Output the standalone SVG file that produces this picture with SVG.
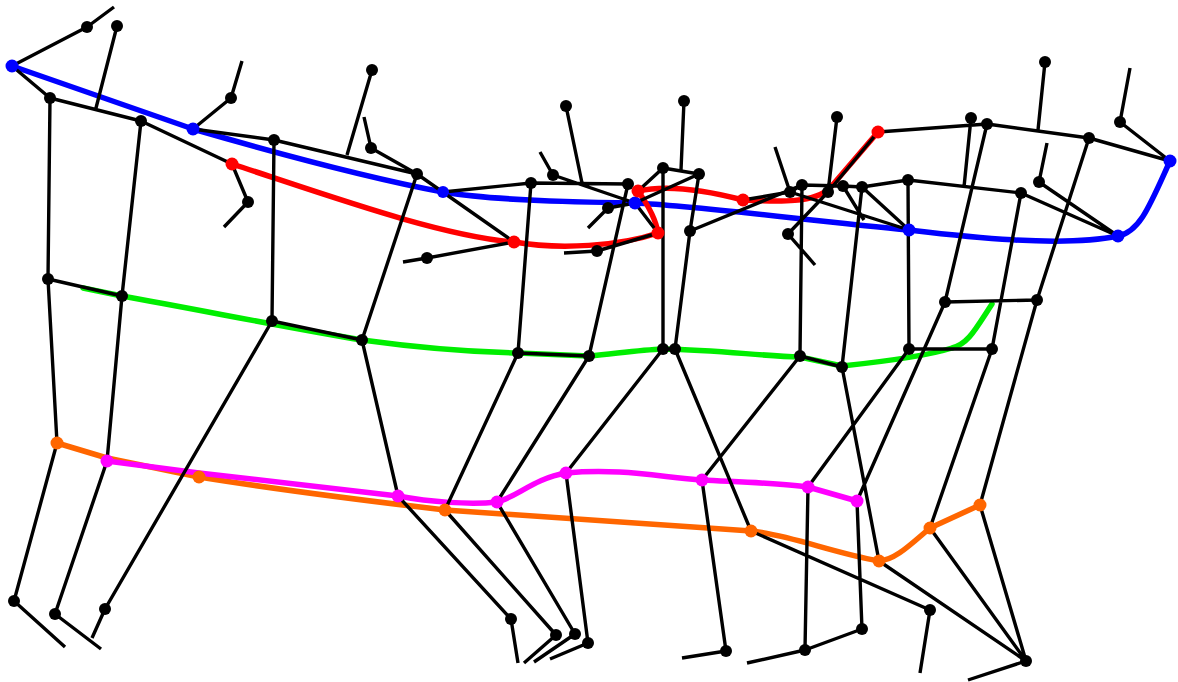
<svg xmlns="http://www.w3.org/2000/svg" width="1178" height="682" viewBox="0 0 1178 682">
<style>
.e{stroke:#000;stroke-width:3.4;fill:none;stroke-linecap:butt}
.r{fill:none;stroke-width:5.5;stroke-linecap:round;stroke-linejoin:round}
.n{fill:#000}
.bl{stroke:#0000ff}.rd{stroke:#ff0000}.gr{stroke:#00ee00}.or{stroke:#ff6600}.mg{stroke:#ff00ff}
.cb{fill:#0000ff}.cr{fill:#ff0000}.co{fill:#ff6600}.cm{fill:#ff00ff}
</style>
<rect width="1178" height="682" fill="#fff"/>
<g id="routes">
<path class="r bl" d="M12,66 L193,129 C300,160 390,182 443,192 C490,200 560,202 635,203 C700,206 820,222 909,230 C960,236 1060,248 1118,236 C1140,232 1150,205 1170,161"/>
<path class="r rd" d="M232,164 C330,196 440,236 514,242 C560,250 620,246 658,233 C656,220 648,205 638,191 C660,186 690,186 743,200 C780,202 815,203 830,188 L878,132"/>
<path class="r gr" d="M83,288 L122,296 C200,310 300,330 362,340 C420,348 470,352 518,353 L589,356 C620,353 640,350 663,349 C720,350 760,356 800,357 L842,366 C880,362 930,355 952,348 C968,344 975,330 992,304"/>
<path class="r or" d="M57,443 L107,458 L199,477 C280,490 360,500 445,510 C550,517 650,524 751,531 C790,535 830,552 879,561 C895,560 910,545 930,528 L980,505"/>
<path class="r mg" d="M107,461 L199,473 L398,496 C430,502 470,505 497,502 C515,498 535,478 566,473 C620,468 660,477 702,480 C740,482 780,483 808,487 L857,501"/>
</g>
<g id="connectors">
<path class="e" d="M114,7L87,27 M87,27L12,66 M117,26L96,108 M12,66L50,98 M50,98L141,121 M50,98L48,279 M141,121L232,164 M141,121L122,296 M48,279L122,296 M48,279L57,443 M57,443L14,601 M14,601L65,647 M122,296L107,461 M107,461L55,614 M55,614L101,649 M105,609L92,638 M272,321L105,609"/>
<path class="e" d="M193,129L231,98 M231,98L242,61 M193,129L274,140 M274,140L272,321 M274,140L417,174 M372,70L347,155 M371,148L364,117 M371,148L417,174 M417,174L362,340 M417,174L514,242 M232,164L248,202 M248,202L224,227 M272,321L362,340 M362,340L398,496 M398,496L511,619 M511,619L518,663 M403,262L427,258 M427,258L514,242"/>
<path class="e" d="M443,192L531,183 M531,183L628,184 M531,183L518,353 M518,353L589,356 M518,353L445,510 M445,510L556,635 M556,635L524,663 M589,356L497,502 M497,502L575,634 M575,634L534,662 M628,184L589,356 M553,175L540,152 M553,175L635,203 M566,106L582,183 M597,251L564,253 M597,251L658,233 M608,208L588,228 M608,208L635,203 M635,203L699,174 M635,203L658,233"/>
<path class="e" d="M663,168L638,191 M663,168L699,174 M663,168L663,349 M684,101L681,170 M699,174L690,231 M690,231L675,349 M690,231L802,185 M663,349L675,349 M663,349L566,473 M566,473L588,643 M588,643L550,659 M675,349L751,531 M702,480L726,651 M726,651L682,658 M800,356L702,480"/>
<path class="e" d="M743,200L790,192 M775,147L790,192 M790,192L802,185 M802,185L843,186 M843,186L862,187 M862,187L908,180 M790,192L909,230 M802,185L800,356 M837,117L828,192 M828,192L878,132 M828,192L788,234 M788,234L815,265 M843,186L864,220 M862,187L909,230 M862,187L842,367 M908,180L909,349"/>
<path class="e" d="M878,132L987,124 M971,118L964,187 M987,124L1089,138 M1045,62L1038,130 M987,124L945,302 M1089,138L1170,161 M1089,138L1037,300 M1120,122L1130,68 M1120,122L1170,161 M908,180L1021,193 M1021,193L1118,236 M1039,182L1047,143 M1039,182L1118,236 M1021,193L992,349 M945,302L1037,300 M909,349L992,349"/>
<path class="e" d="M945,302L857,501 M909,349L808,487 M800,356L842,367 M842,367L879,561 M992,349L930,528 M1037,300L980,505 M808,487L805,650 M805,650L747,663 M805,650L862,629 M862,629L857,501 M751,531L930,610 M930,610L920,673 M879,561L1026,661 M930,528L1026,661 M980,505L1026,661 M1026,661L968,680"/>
</g>
<g id="nodes">
<g id="n1"><circle class="n" cx="87" cy="27" r="6"/></g>
<g id="n2"><circle class="n" cx="117" cy="26" r="6"/></g>
<g id="n3"><circle class="n" cx="50" cy="98" r="6"/></g>
<g id="n4"><circle class="n" cx="141" cy="121" r="6"/></g>
<g id="n5"><circle class="n" cx="48" cy="279" r="6"/></g>
<g id="n6"><circle class="n" cx="122" cy="296" r="6"/></g>
<g id="n7"><circle class="n" cx="14" cy="601" r="6"/></g>
<g id="n8"><circle class="n" cx="55" cy="614" r="6"/></g>
<g id="n9"><circle class="n" cx="105" cy="609" r="6"/></g>
<g id="n10"><circle class="n" cx="231" cy="98" r="6"/></g>
<g id="n11"><circle class="n" cx="274" cy="140" r="6"/></g>
<g id="n12"><circle class="n" cx="372" cy="70" r="6"/></g>
<g id="n13"><circle class="n" cx="371" cy="148" r="6"/></g>
<g id="n14"><circle class="n" cx="417" cy="174" r="6"/></g>
<g id="n15"><circle class="n" cx="272" cy="321" r="6"/></g>
<g id="n16"><circle class="n" cx="362" cy="340" r="6"/></g>
<g id="n17"><circle class="n" cx="248" cy="202" r="6"/></g>
<g id="n18"><circle class="n" cx="427" cy="258" r="6"/></g>
<g id="n19"><circle class="n" cx="531" cy="183" r="6"/></g>
<g id="n20"><circle class="n" cx="628" cy="184" r="6"/></g>
<g id="n21"><circle class="n" cx="518" cy="353" r="6"/></g>
<g id="n22"><circle class="n" cx="553" cy="175" r="6"/></g>
<g id="n23"><circle class="n" cx="566" cy="106" r="6"/></g>
<g id="n24"><circle class="n" cx="589" cy="356" r="6"/></g>
<g id="n25"><circle class="n" cx="597" cy="251" r="6"/></g>
<g id="n26"><circle class="n" cx="608" cy="208" r="6"/></g>
<g id="n27"><circle class="n" cx="663" cy="168" r="6"/></g>
<g id="n28"><circle class="n" cx="699" cy="174" r="6"/></g>
<g id="n29"><circle class="n" cx="663" cy="349" r="6"/></g>
<g id="n30"><circle class="n" cx="684" cy="101" r="6"/></g>
<g id="n31"><circle class="n" cx="675" cy="349" r="6"/></g>
<g id="n32"><circle class="n" cx="690" cy="231" r="6"/></g>
<g id="n33"><circle class="n" cx="837" cy="117" r="6"/></g>
<g id="n34"><circle class="n" cx="790" cy="192" r="6"/></g>
<g id="n35"><circle class="n" cx="802" cy="185" r="6"/></g>
<g id="n36"><circle class="n" cx="828" cy="192" r="6"/></g>
<g id="n37"><circle class="n" cx="843" cy="186" r="6"/></g>
<g id="n38"><circle class="n" cx="862" cy="187" r="6"/></g>
<g id="n39"><circle class="n" cx="908" cy="180" r="6"/></g>
<g id="n40"><circle class="n" cx="788" cy="234" r="6"/></g>
<g id="n41"><circle class="n" cx="1021" cy="193" r="6"/></g>
<g id="n42"><circle class="n" cx="1039" cy="182" r="6"/></g>
<g id="n43"><circle class="n" cx="1120" cy="122" r="6"/></g>
<g id="n44"><circle class="n" cx="1089" cy="138" r="6"/></g>
<g id="n45"><circle class="n" cx="987" cy="124" r="6"/></g>
<g id="n46"><circle class="n" cx="971" cy="118" r="6"/></g>
<g id="n47"><circle class="n" cx="1045" cy="62" r="6"/></g>
<g id="n48"><circle class="n" cx="945" cy="302" r="6"/></g>
<g id="n49"><circle class="n" cx="1037" cy="300" r="6"/></g>
<g id="n50"><circle class="n" cx="992" cy="349" r="6"/></g>
<g id="n51"><circle class="n" cx="909" cy="349" r="6"/></g>
<g id="n52"><circle class="n" cx="800" cy="356" r="6"/></g>
<g id="n53"><circle class="n" cx="842" cy="367" r="6"/></g>
<g id="n54"><circle class="n" cx="805" cy="650" r="6"/></g>
<g id="n55"><circle class="n" cx="862" cy="629" r="6"/></g>
<g id="n56"><circle class="n" cx="930" cy="610" r="6"/></g>
<g id="n57"><circle class="n" cx="1026" cy="661" r="6"/></g>
<g id="n58"><circle class="n" cx="511" cy="619" r="6"/></g>
<g id="n59"><circle class="n" cx="556" cy="635" r="6"/></g>
<g id="n60"><circle class="n" cx="575" cy="634" r="6"/></g>
<g id="n61"><circle class="n" cx="588" cy="643" r="6"/></g>
<g id="n62"><circle class="n" cx="726" cy="651" r="6"/></g>
<g id="b1"><circle class="cb" cx="12" cy="66" r="6.5"/></g>
<g id="b2"><circle class="cb" cx="193" cy="129" r="6.5"/></g>
<g id="b3"><circle class="cb" cx="443" cy="192" r="6"/></g>
<g id="b4"><circle class="cb" cx="635" cy="203" r="6.5"/></g>
<g id="b5"><circle class="cb" cx="909" cy="230" r="6.5"/></g>
<g id="b6"><circle class="cb" cx="1118" cy="236" r="6.5"/></g>
<g id="b7"><circle class="cb" cx="1170" cy="161" r="6.5"/></g>
<g id="r1"><circle class="cr" cx="232" cy="164" r="6.5"/></g>
<g id="r2"><circle class="cr" cx="514" cy="242" r="6.5"/></g>
<g id="r3"><circle class="cr" cx="658" cy="233" r="6.5"/></g>
<g id="r4"><circle class="cr" cx="638" cy="191" r="6.5"/></g>
<g id="r5"><circle class="cr" cx="743" cy="200" r="6.5"/></g>
<g id="r6"><circle class="cr" cx="878" cy="132" r="6.5"/></g>
<g id="o1"><circle class="co" cx="57" cy="443" r="6.5"/></g>
<g id="o2"><circle class="co" cx="199" cy="477" r="6.5"/></g>
<g id="o3"><circle class="co" cx="445" cy="510" r="6.5"/></g>
<g id="o4"><circle class="co" cx="751" cy="531" r="6.5"/></g>
<g id="o5"><circle class="co" cx="879" cy="561" r="6.5"/></g>
<g id="o6"><circle class="co" cx="930" cy="528" r="6.5"/></g>
<g id="o7"><circle class="co" cx="980" cy="505" r="6.5"/></g>
<g id="m1"><circle class="cm" cx="107" cy="461" r="6.5"/></g>
<g id="m2"><circle class="cm" cx="398" cy="496" r="6.5"/></g>
<g id="m3"><circle class="cm" cx="497" cy="502" r="6.5"/></g>
<g id="m4"><circle class="cm" cx="566" cy="473" r="6.5"/></g>
<g id="m5"><circle class="cm" cx="702" cy="480" r="6.5"/></g>
<g id="m6"><circle class="cm" cx="808" cy="487" r="6.5"/></g>
<g id="m7"><circle class="cm" cx="857" cy="501" r="6.5"/></g>
</g>
</svg>
